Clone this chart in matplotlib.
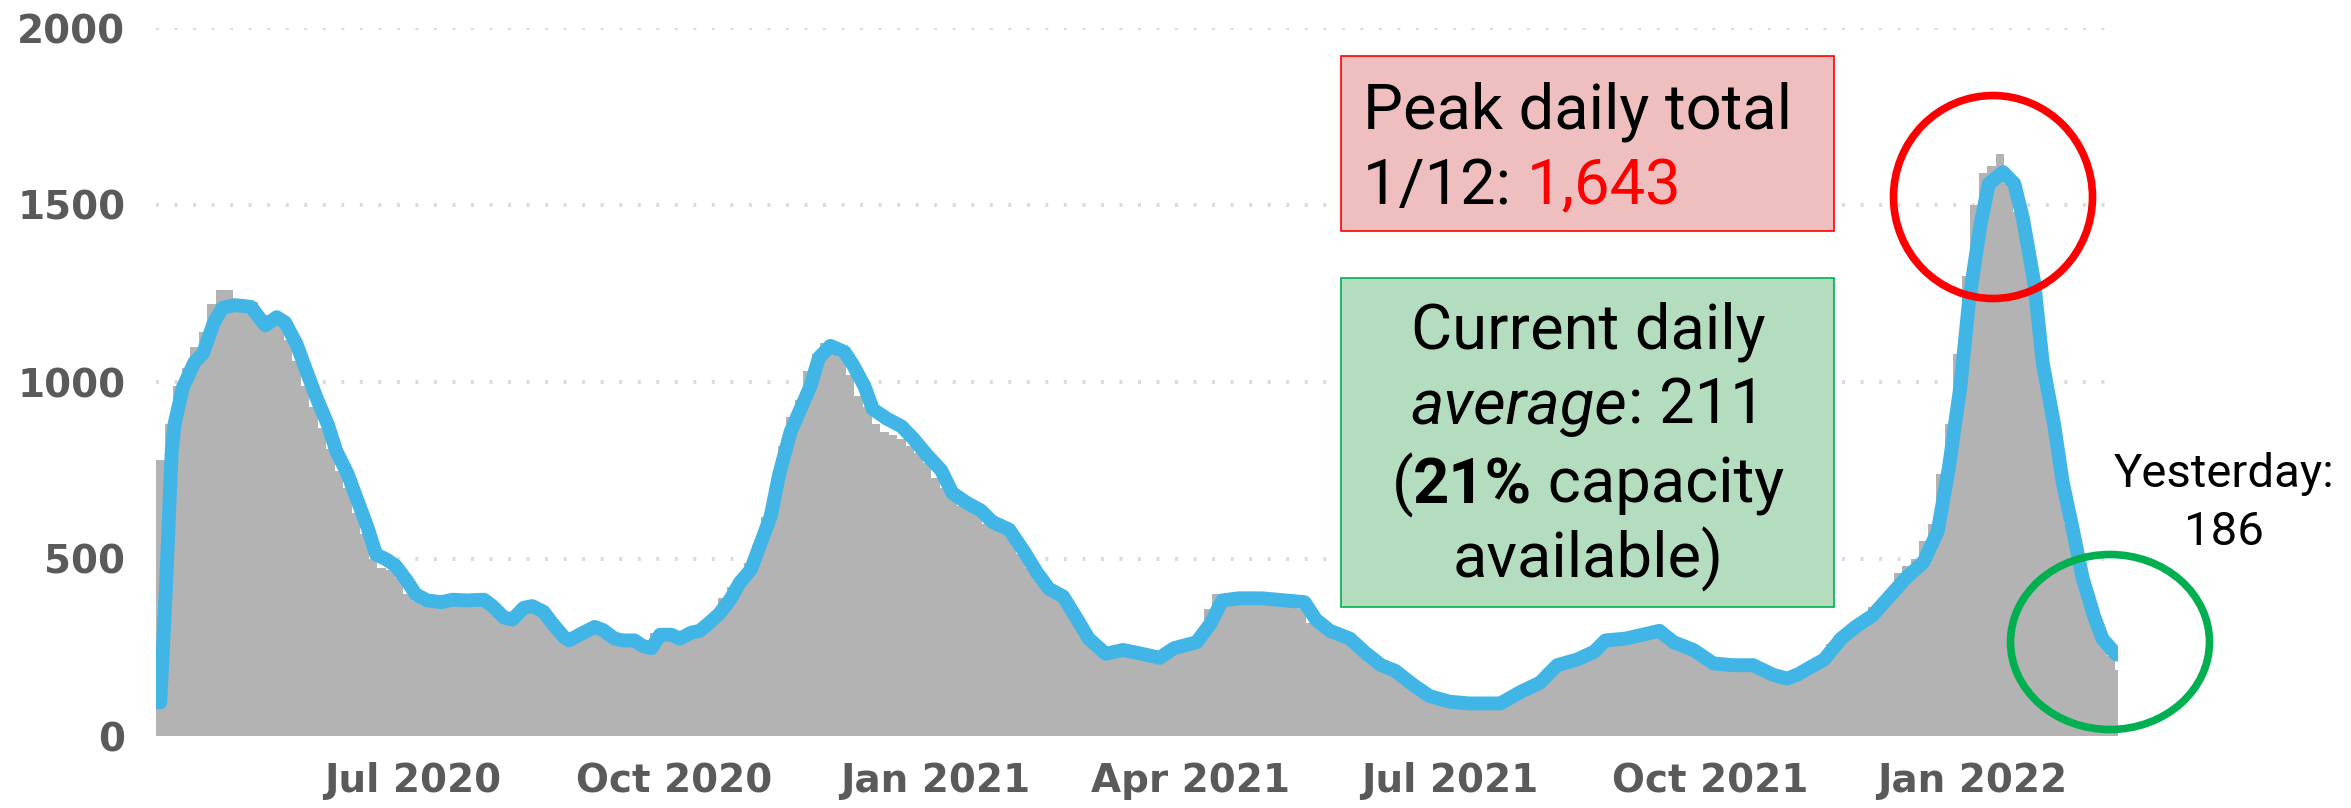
import matplotlib
matplotlib.use("Agg")
import matplotlib.pyplot as plt
from matplotlib.patches import Ellipse, Rectangle
import numpy as np
import pandas as pd

# daily hospital census, Apr 2 2020 .. Feb 21 2022
start = pd.Timestamp("2020-04-02")
n_days = 691

# daily totals in 3-day steps (day 0, 3, 6, ...)
bar_vals = [
    780, 880, 990, 1040, 1100, 1140, 1220, 1260, 1260, 1230,
    1220, 1225, 1190, 1190, 1175, 1120, 1060, 990, 930, 870,
    810, 750, 700, 630, 570, 500, 475, 470, 445, 400,
    380, 370, 372, 375, 380, 380, 380, 382, 378, 355,
    335, 325, 350, 375, 355, 340, 310, 280, 268, 285,
    300, 305, 290, 272, 270, 265, 255, 250, 290, 285,
    284, 278, 290, 300, 315, 340, 390, 420, 450, 490,
    540, 620, 700, 820, 900, 950, 1030, 1080, 1110, 1105,
    1070, 1020, 960, 930, 880, 860, 850, 840, 820, 800,
    770, 730, 700, 670, 650, 640, 625, 600, 585, 575,
    555, 515, 475, 440, 410, 395, 380, 340, 300, 265,
    240, 228, 235, 238, 235, 230, 225, 220, 232, 250,
    255, 262, 290, 360, 400, 392, 390, 388, 386, 385,
    383, 380, 378, 376, 360, 320, 310, 298, 285, 275,
    260, 238, 218, 200, 188, 178, 158, 140, 120, 108,
    100, 95, 92, 90, 90, 90, 90, 95, 105, 120,
    132, 145, 160, 185, 205, 210, 218, 228, 240, 260,
    272, 274, 276, 282, 290, 300, 295, 270, 255, 245,
    235, 220, 205, 205, 200, 198, 198, 195, 182, 172,
    165, 165, 178, 192, 205, 225, 260, 285, 300, 320,
    335, 365, 385, 405, 460, 480, 500, 550, 600, 740,
    880, 1080, 1300, 1500, 1590, 1610, 1643, 1560, 1480, 1380,
    1240, 1020, 880, 730, 600, 490, 400, 325, 265, 225,
    186,
]
bar_step = 3

# 7-day average line: day offset -> value
avg_days = [
    0, 1, 3, 5, 6, 9, 13, 16, 20, 23, 27, 30, 33, 36, 38, 42, 45, 49, 53, 56,
    60, 63, 67, 70, 74, 77, 81, 84, 88, 91, 95, 100, 104, 109, 115, 118, 122, 125, 129, 132,
    136, 139, 143, 145, 150, 154, 157, 161, 164, 168, 171, 174, 177, 181, 184, 188, 191, 195, 198, 202,
    205, 209, 212, 216, 219, 223, 226, 230, 233, 237, 242, 245, 249, 252, 257, 262, 266, 271, 276, 280,
    285, 290, 294, 300, 305, 310, 314, 319, 324, 328, 334, 340, 345, 353, 358, 366, 371, 375, 381, 389,
    397, 404, 408, 413, 420, 425, 431, 436, 442, 448, 455, 462, 473, 480, 487, 493, 500, 506, 510, 517,
    523, 529, 534, 541, 548, 555, 562, 569, 574, 578, 581, 587, 593, 598, 604, 610, 616, 622, 627, 631,
    635, 638, 642, 645, 650, 654, 657, 661, 664, 668, 671, 675, 678, 682, 685, 689, 690,
]
avg_vals = [
    95, 95, 420, 800, 880, 985, 1055, 1080, 1170, 1210, 1217, 1215, 1212, 1180, 1160, 1183, 1168, 1107, 1020, 956,
    880, 805, 740, 675, 589, 513, 497, 480, 437, 400, 383, 378, 385, 383, 385, 367, 335, 329, 362, 367,
    351, 319, 281, 270, 292, 308, 299, 275, 270, 270, 254, 248, 286, 286, 275, 292, 297, 324, 346, 389,
    432, 470, 535, 621, 740, 859, 915, 988, 1069, 1102, 1085, 1048, 988, 923, 896, 875, 842, 794, 751, 686,
    659, 637, 605, 583, 524, 459, 416, 394, 329, 275, 232, 243, 235, 221, 248, 265, 319, 383, 389, 389,
    383, 378, 329, 297, 275, 238, 200, 184, 146, 113, 97, 92, 92, 124, 151, 200, 216, 238, 270, 275,
    286, 297, 265, 243, 205, 200, 200, 173, 162, 175, 189, 216, 275, 308, 340, 394, 448, 491, 578, 761,
    988, 1226, 1442, 1560, 1593, 1560, 1463, 1280, 1053, 880, 718, 567, 448, 340, 275, 238, 230,
]

y_ticks = [0, 500, 1000, 1500, 2000]
x_tick_dates = ["2020-07-01", "2020-10-01", "2021-01-01", "2021-04-01",
                "2021-07-01", "2021-10-01", "2022-01-01"]
x_tick_labels = ["Jul 2020", "Oct 2020", "Jan 2021", "Apr 2021",
                 "Jul 2021", "Oct 2021", "Jan 2022"]

W, H = 2351, 808
fig = plt.figure(figsize=(W / 100, H / 100), dpi=100)
ax = fig.add_axes([156 / W, 72 / H, 1962 / W, 708 / H])

bar_x = np.arange(len(bar_vals)) * bar_step
ax.bar(bar_x, bar_vals, width=bar_step, align="edge", color="#b3b3b3",
       linewidth=0, zorder=2)
ax.plot(np.array(avg_days) + 0.5, avg_vals, color="#41b6e6", lw=10,
        solid_joinstyle="round", solid_capstyle="round", zorder=3)

ax.set_xlim(0, n_days)
ax.set_ylim(0, 2000)
ax.set_axisbelow(True)
ax.yaxis.grid(True, color="#dcdcdc", linestyle=(0, (0.75, 3.85)), linewidth=2.9)
for s in ax.spines.values():
    s.set_visible(False)

tick_pos = [(pd.Timestamp(d) - start).days + 0.5 for d in x_tick_dates]
ax.set_xticks(tick_pos)
ax.set_xticklabels(x_tick_labels)
ax.set_yticks(y_ticks)
ax.set_yticklabels([str(v) for v in y_ticks])
ax.tick_params(length=0, labelsize=28, labelcolor="#5a5a5a")
ax.tick_params(axis="x", pad=19)
ax.tick_params(axis="y", pad=22)
for lab in ax.get_xticklabels() + ax.get_yticklabels():
    lab.set_fontweight("bold")

# overlay in pixel coordinates (top-left origin) for boxes, circles, notes
ov = fig.add_axes([0, 0, 1, 1])
ov.set_xlim(0, W)
ov.set_ylim(H, 0)
ov.axis("off")
ov.patch.set_visible(False)

ov.add_patch(Rectangle((1341, 56), 493, 175, facecolor="#efbfbf",
                       edgecolor="#ff0000", lw=1.2))
ov.add_patch(Rectangle((1341, 278), 493, 329, facecolor="#b4ddc0",
                       edgecolor="#00b050", lw=1.2))
ov.add_patch(Ellipse((1993, 197), 199, 203, fill=False, edgecolor="#ff0000", lw=5.5))
ov.add_patch(Ellipse((2110, 642), 199, 175, fill=False, edgecolor="#00b050", lw=5.5))

renderer = fig.canvas.get_renderer()


def advance(s, size, **kw):
    a = ov.text(0, 0, "X" + s + "X", fontsize=size, family="Roboto", **kw)
    b = ov.text(0, 0, "XX", fontsize=size, family="Roboto", **kw)
    w = a.get_window_extent(renderer).width - b.get_window_extent(renderer).width
    a.remove()
    b.remove()
    return w


def rich_line(pieces, x, y, align="left", size=45.5):
    widths = [advance(s, size, **kw) for s, kw in pieces]
    x0 = x - sum(widths) / 2 if align == "center" else x
    for (s, kw), w in zip(pieces, widths):
        ov.text(x0, y, s, fontsize=size, family="Roboto", va="baseline",
                ha="left", color=kw.pop("color", "black"), **kw)
        x0 += w


rich_line([("Peak daily total", {})], 1363, 128)
rich_line([("1/12: ", {}), ("1,643", {"color": "#ff0000"})], 1363, 204)

rich_line([("Current daily", {})], 1588, 348, "center")
rich_line([("average", {"style": "italic"}), (": 211", {})], 1588, 424, "center")
rich_line([("(", {}), ("21%", {"weight": "bold"}), (" capacity", {})], 1588, 503, "center")
rich_line([("available)", {})], 1588, 577, "center")

ov.text(2224, 487, "Yesterday:", fontsize=34, family="Roboto", ha="center", va="baseline")
ov.text(2224, 545, "186", fontsize=34, family="Roboto", ha="center", va="baseline")

fig.savefig("out.png", dpi=100)
